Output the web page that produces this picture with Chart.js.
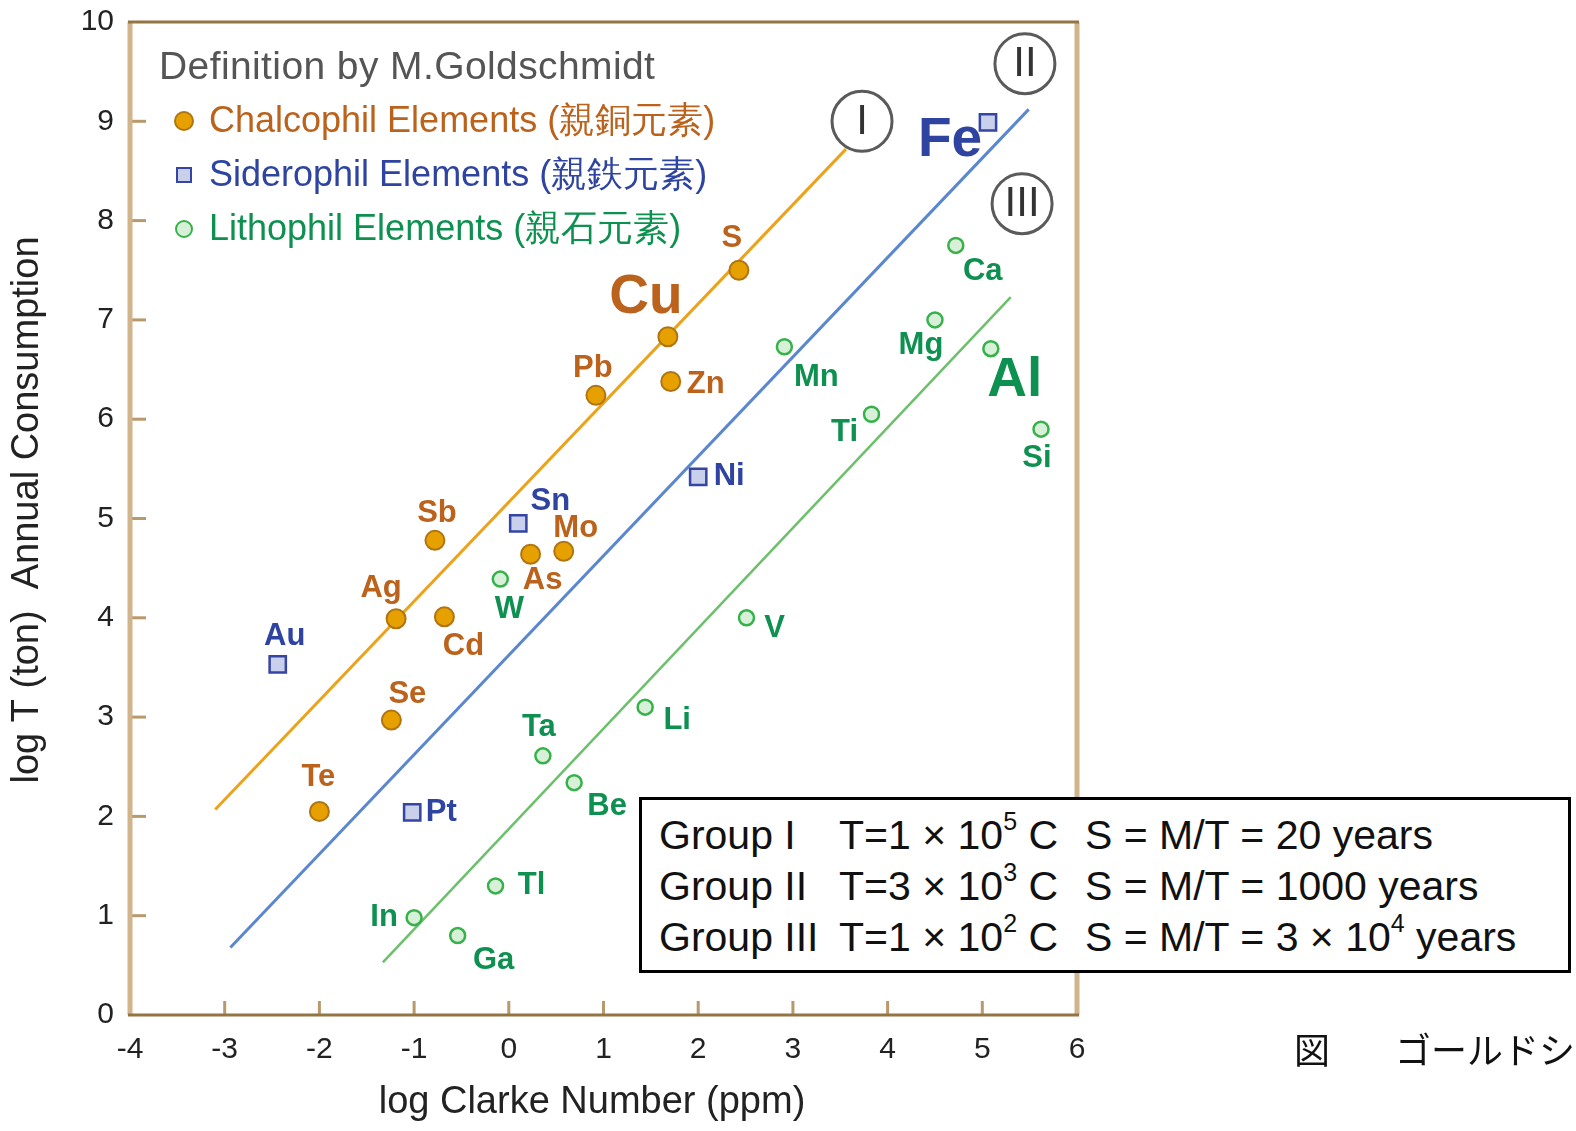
<!DOCTYPE html>
<html>
<head>
<meta charset="utf-8">
<script src="https://cdn.jsdelivr.net/npm/chart.js@4.4.1/dist/chart.umd.min.js"></script>
<style>
  body { margin: 0; background: #fff; overflow: hidden; width: 1576px; height: 1131px; position: relative; font-family: "Liberation Sans", Arial, sans-serif; }
  #chart { position: absolute; left: 0; top: 0; }
  #box { position: absolute; left: 639px; top: 797px; width: 926px; height: 170px; border: 3px solid #000; background: #fff; font-size: 41px; color: #111; }
  #box .row { position: absolute; left: 0; width: 100%; height: 50px; line-height: 50px; }
  #box span { position: absolute; top: 0; white-space: nowrap; }
  #box sup { font-size: 25px; line-height: 0; position: relative; top: -4px; }
  #caption { position: absolute; top: 1022px; left: 1294px; font-family: "Noto Sans CJK JP", sans-serif; font-size: 36px; color: #111; white-space: nowrap; }
</style>
</head>
<body>
<canvas id="chart" width="1576" height="1131"></canvas>

<div id="box">
  <div class="row" style="top:10px"><span style="left:17px">Group I</span><span style="left:197px">T=1 × 10<sup>5</sup> C</span><span style="left:443px">S = M/T = 20 years</span></div>
  <div class="row" style="top:61px"><span style="left:17px">Group II</span><span style="left:197px">T=3 × 10<sup>3</sup> C</span><span style="left:443px">S = M/T = 1000 years</span></div>
  <div class="row" style="top:112px"><span style="left:17px">Group III</span><span style="left:197px">T=1 × 10<sup>2</sup> C</span><span style="left:443px">S = M/T = 3 × 10<sup>4</sup> years</span></div>
</div>
<div id="caption">図<span style="margin-left:65px">ゴールドシュミット</span></div>

<script>
// chalcophil elements (親銅元素)
const chalcoNames = ['S', 'Cu', 'Pb', 'Zn', 'Sb', 'Mo', 'As', 'Ag', 'Cd', 'Se', 'Te'];
const chalcoX = [2.43, 1.68, 0.92, 1.71, -0.78, 0.58, 0.23, -1.19, -0.68, -1.24, -2.00];
const chalcoY = [7.50, 6.83, 6.24, 6.38, 4.78, 4.67, 4.64, 3.99, 4.01, 2.97, 2.05];

// siderophil elements (親鉄元素)
const sideroNames = ['Fe', 'Ni', 'Sn', 'Au', 'Pt'];
const sideroX = [5.06, 2.00, 0.10, -2.44, -1.02];
const sideroY = [8.99, 5.42, 4.95, 3.53, 2.04];

// lithophil elements (親石元素)
const lithoNames = ['Ca', 'Mg', 'Al', 'Mn', 'Ti', 'Si', 'W', 'V', 'Li', 'Ta', 'Be', 'Tl', 'In', 'Ga'];
const lithoX = [4.72, 4.50, 5.09, 2.91, 3.83, 5.62, -0.09, 2.51, 1.44, 0.36, 0.69, -0.14, -1.00, -0.54];
const lithoY = [7.75, 7.00, 6.71, 6.73, 6.05, 5.90, 4.39, 4.00, 3.10, 2.61, 2.34, 1.30, 0.98, 0.80];

// group lines I, II, III (start and end)
const lineIX = [-3.10, 3.56];
const lineIY = [2.07, 8.72];
const lineIIX = [-2.94, 5.49];
const lineIIY = [0.68, 9.12];
const lineIIIX = [-1.33, 5.30];
const lineIIIY = [0.53, 7.23];

// circled group numerals, anchored in data units
const groupMarks = ['I', 'II', 'III'];
const groupMarkX = [3.73, 5.45, 5.42];
const groupMarkY = [9.00, 9.58, 8.17];

const xTicks = [-4, -3, -2, -1, 0, 1, 2, 3, 4, 5, 6];
const yTicks = [0, 1, 2, 3, 4, 5, 6, 7, 8, 9, 10];

const legendTitle = 'Definition by M.Goldschmidt';
const legendNames = ['Chalcophil Elements (親銅元素)', 'Siderophil Elements (親鉄元素)', 'Lithophil Elements (親石元素)'];

// label offsets in px from each point
const labelOffset = {
  S: [-7, -32], Cu: [-22, -39], Pb: [-3, -27], Zn: [35, 3], Sb: [2, -27], Mo: [12, -23],
  As: [12, 26], Ag: [-15, -30], Cd: [19, 30], Se: [16, -26], Te: [-1, -34],
  Fe: [-38, 19], Ni: [31, 0], Sn: [32, -22], Au: [7, -28], Pt: [29, 0],
  Ca: [27, 26], Mg: [-14, 26], Al: [24, 32], Mn: [32, 31], Ti: [-27, 18], Si: [-4, 29],
  W: [9, 30], V: [28, 11], Li: [32, 13], Ta: [-4, -28], Be: [33, 24], Tl: [36, 0],
  In: [-30, 0], Ga: [36, 25]
};
const bigLabels = ['Cu', 'Fe', 'Al'];

const orange = { fill: '#e6a000', border: '#b07512', text: '#bb621c', line: '#eca31c' };
const blue = { fill: '#c8d0ec', border: '#3445a3', text: '#2e44a0', line: '#5b87cf' };
const green = { fill: '#d8f0d8', border: '#35b24a', text: '#0e9150', line: '#6cc06c' };

const pts = (xs, ys) => xs.map((x, i) => ({ x: x, y: ys[i] }));

const FONT = '"Liberation Sans", Arial, sans-serif';

const decorPlugin = {
  id: 'decor',
  beforeDatasetsDraw(chart) {
    const { ctx, chartArea: a, scales } = chart;
    ctx.save();
    // inner ticks
    ctx.strokeStyle = '#b8996c';
    ctx.lineWidth = 3;
    yTicks.slice(1, -1).forEach(v => {
      const y = scales.y.getPixelForValue(v);
      ctx.beginPath(); ctx.moveTo(a.left, y); ctx.lineTo(a.left + 16, y); ctx.stroke();
    });
    xTicks.slice(1, -1).forEach(v => {
      const x = scales.x.getPixelForValue(v);
      ctx.beginPath(); ctx.moveTo(x, a.bottom); ctx.lineTo(x, a.bottom - 14); ctx.stroke();
    });
    // frame
    ctx.strokeStyle = '#d2b48c';
    ctx.lineWidth = 5;
    ctx.beginPath(); ctx.moveTo(a.left, a.top); ctx.lineTo(a.left, a.bottom); ctx.stroke();
    ctx.beginPath(); ctx.moveTo(a.right, a.top); ctx.lineTo(a.right, a.bottom); ctx.stroke();
    ctx.strokeStyle = '#957443';
    ctx.lineWidth = 3;
    ctx.beginPath(); ctx.moveTo(a.left - 2, a.top); ctx.lineTo(a.right + 2, a.top); ctx.stroke();
    ctx.beginPath(); ctx.moveTo(a.left - 2, a.bottom); ctx.lineTo(a.right + 2, a.bottom); ctx.stroke();
    ctx.restore();
  },
  afterDatasetsDraw(chart) {
    const { ctx, chartArea: a, scales } = chart;
    ctx.save();

    // element labels
    const sets = [[chalcoNames, orange], [sideroNames, blue], [lithoNames, green]];
    ctx.textAlign = 'center';
    ctx.textBaseline = 'middle';
    sets.forEach(([names, col], di) => {
      const meta = chart.getDatasetMeta(di + 3);
      names.forEach((n, i) => {
        const p = meta.data[i];
        const off = labelOffset[n];
        ctx.font = 'bold ' + (bigLabels.includes(n) ? 55 : 31) + 'px ' + FONT;
        ctx.fillStyle = col.text;
        ctx.fillText(n, p.x + off[0], p.y + off[1]);
      });
    });

    // circled numerals
    groupMarks.forEach((m, i) => {
      const cx = scales.x.getPixelForValue(groupMarkX[i]);
      const cy = scales.y.getPixelForValue(groupMarkY[i]);
      ctx.beginPath();
      ctx.arc(cx, cy, 30, 0, Math.PI * 2);
      ctx.fillStyle = '#fff';
      ctx.fill();
      ctx.lineWidth = 3;
      ctx.strokeStyle = '#5a5a5a';
      ctx.stroke();
      ctx.fillStyle = '#333';
      ctx.font = '42px ' + FONT;
      ctx.fillText(m, cx, cy + 1);
    });

    // legend
    ctx.textAlign = 'left';
    ctx.fillStyle = '#555';
    ctx.font = '39px ' + FONT;
    ctx.letterSpacing = '0.4px';
    ctx.fillText(legendTitle, a.left + 29, a.top + 46);
    ctx.letterSpacing = '0px';
    const cols = [orange, blue, green];
    cols.forEach((col, i) => {
      const y = a.top + 99 + i * 54;
      const x = a.left + 54;
      ctx.beginPath();
      if (i === 1) {
        ctx.rect(x - 7, y - 7, 14, 14);
      } else {
        ctx.arc(x, y, i === 0 ? 9 : 8, 0, Math.PI * 2);
      }
      ctx.fillStyle = col.fill;
      ctx.fill();
      ctx.lineWidth = 2;
      ctx.strokeStyle = col.border;
      ctx.stroke();
      ctx.fillStyle = col.text;
      ctx.font = '36px ' + FONT;
      ctx.fillText(legendNames[i], a.left + 79, y + 1);
    });

    // axis titles
    ctx.fillStyle = '#222';
    ctx.font = '38px ' + FONT;
    ctx.textAlign = 'center';
    ctx.fillText('log Clarke Number (ppm)', 592, 1103);
    ctx.translate(28, 510);
    ctx.rotate(-Math.PI / 2);
    ctx.fillText('log T (ton)  Annual Consumption', 0, 0);
    ctx.restore();
  }
};

const noPad = s => { s.paddingTop = 0; s.paddingBottom = 0; s.paddingLeft = 0; s.paddingRight = 0; };

new Chart(document.getElementById('chart').getContext('2d'), {
  type: 'scatter',
  data: {
    datasets: [
      { data: pts(lineIX, lineIY), showLine: true, borderColor: orange.line, borderWidth: 3, pointRadius: 0, order: 2 },
      { data: pts(lineIIX, lineIIY), showLine: true, borderColor: blue.line, borderWidth: 3, pointRadius: 0, order: 2 },
      { data: pts(lineIIIX, lineIIIY), showLine: true, borderColor: green.line, borderWidth: 2.5, pointRadius: 0, order: 2 },
      { label: legendNames[0], data: pts(chalcoX, chalcoY), pointStyle: 'circle', pointRadius: 9.5,
        backgroundColor: orange.fill, borderColor: orange.border, borderWidth: 2, order: 1 },
      { label: legendNames[1], data: pts(sideroX, sideroY), pointStyle: 'rect', pointRadius: 11.5,
        backgroundColor: blue.fill, borderColor: blue.border, borderWidth: 2.5, order: 1 },
      { label: legendNames[2], data: pts(lithoX, lithoY), pointStyle: 'circle', pointRadius: 7.5,
        backgroundColor: green.fill, borderColor: green.border, borderWidth: 2.5, order: 1 }
    ]
  },
  options: {
    responsive: false,
    animation: false,
    events: [],
    layout: { padding: { top: 22, right: 499, left: 0, bottom: 0 } },
    plugins: { legend: { display: false }, tooltip: { enabled: false } },
    scales: {
      x: {
        type: 'linear', min: -4, max: 6,
        afterBuildTicks: s => { s.ticks = xTicks.map(v => ({ value: v })); },
        afterFit: s => { s.height = 116; noPad(s); },
        grid: { display: false, drawTicks: false },
        border: { display: false },
        ticks: { padding: 17, color: '#222', font: { family: FONT, size: 30 } }
      },
      y: {
        type: 'linear', min: 0, max: 10,
        afterBuildTicks: s => { s.ticks = yTicks.map(v => ({ value: v })); },
        afterFit: s => { s.width = 130; noPad(s); },
        grid: { display: false, drawTicks: false },
        border: { display: false },
        ticks: { padding: 16, color: '#222', font: { family: FONT, size: 30 } }
      }
    }
  },
  plugins: [decorPlugin]
});
</script>
</body>
</html>
